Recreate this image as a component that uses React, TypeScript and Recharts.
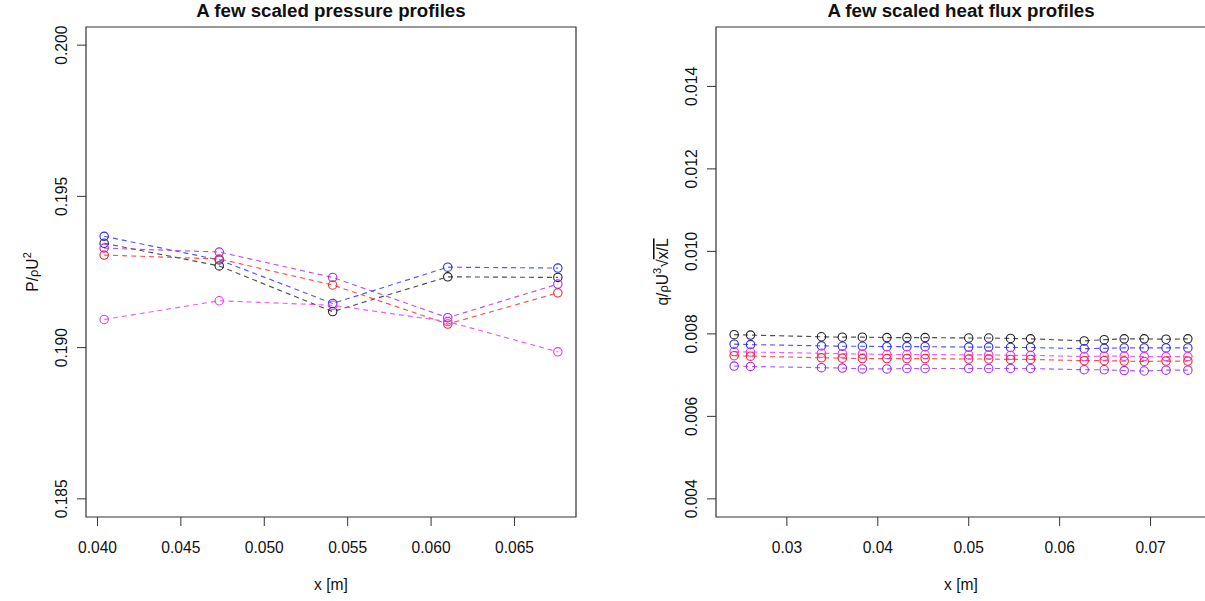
import React from "react";
import { LineChart, Line, XAxis, YAxis, ReferenceArea } from "recharts";

// pressure profiles: five stations along the plate
const pressureX = [0.0404, 0.0473, 0.0541, 0.061, 0.0676];
const pressureBlack = [0.19345, 0.1927, 0.19119, 0.19234, 0.19232];
const pressureBlue = [0.19368, 0.1929, 0.19146, 0.19266, 0.19263];
const pressureRed = [0.19306, 0.19293, 0.19207, 0.19078, 0.19181];
const pressurePurple = [0.19329, 0.19316, 0.19232, 0.19099, 0.1921];
const pressureMagenta = [0.19093, 0.19155, 0.1914, 0.19086, 0.18986];

// heat flux profiles: eighteen stations
const fluxX = [
  0.0242, 0.026, 0.0338, 0.0361, 0.0383, 0.041, 0.0432, 0.0452, 0.05, 0.0522,
  0.0546, 0.0568, 0.0627, 0.0649, 0.0671, 0.0693, 0.0717, 0.0741,
];
const fluxBlack = [
  0.00798, 0.00797, 0.00793, 0.00792, 0.00792, 0.00791, 0.00791, 0.00791, 0.0079, 0.0079,
  0.00789, 0.00788, 0.00783, 0.00786, 0.00788, 0.00788, 0.00787, 0.00788,
];
const fluxBlue = [
  0.00775, 0.00774, 0.00771, 0.0077, 0.0077, 0.00769, 0.00769, 0.00769, 0.00768, 0.00768,
  0.00767, 0.00767, 0.00764, 0.00765, 0.00766, 0.00766, 0.00766, 0.00766,
];
const fluxMagenta = [
  0.00757, 0.00756, 0.00753, 0.00752, 0.00751, 0.0075, 0.0075, 0.0075, 0.00749, 0.00749,
  0.00748, 0.00748, 0.00745, 0.00746, 0.00746, 0.00745, 0.00745, 0.00745,
];
const fluxRed = [
  0.00747, 0.00746, 0.00742, 0.00741, 0.0074, 0.0074, 0.0074, 0.0074, 0.00739, 0.00739,
  0.00738, 0.00738, 0.00735, 0.00735, 0.00734, 0.00733, 0.00734, 0.00734,
];
const fluxPurple = [
  0.00722, 0.00721, 0.00718, 0.00717, 0.00715, 0.00715, 0.00716, 0.00716, 0.00716, 0.00716,
  0.00716, 0.00716, 0.00713, 0.00713, 0.00711, 0.0071, 0.00712, 0.00712,
];

const pressureXTicks = [0.04, 0.045, 0.05, 0.055, 0.06, 0.065];
const pressureYTicks = [0.185, 0.19, 0.195, 0.2];
const fluxXTicks = [0.03, 0.04, 0.05, 0.06, 0.07];
const fluxYTicks = [0.004, 0.006, 0.008, 0.01, 0.012, 0.014];

const colors = {
  black: "#222222",
  blue: "#2b2bf2",
  red: "#f02b2b",
  magenta: "#ec34ec",
  purple: "#a02cf0",
};

const FONT = "'Liberation Sans', Arial, Helvetica, sans-serif";
const TICK_FONT = 15.6;
const PANEL_W = 630;
const H = 601;
const PLOT_LEFT = 86;
const PLOT_W = 490;
const PLOT_TOP = 27;
const PLOT_BOTTOM = 517;

// R-style axis range: data extent padded by 4% on each side
const pad = (lo: number, hi: number): [number, number] => {
  const d = (hi - lo) * 0.04;
  return [lo - d, hi + d];
};

const rows = (xs: number[], series: Record<string, number[]>) =>
  xs.map((x, i) => {
    const r: Record<string, number> = { x };
    Object.keys(series).forEach((k) => (r[k] = series[k][i]));
    return r;
  });

const pressureData = rows(pressureX, {
  black: pressureBlack,
  blue: pressureBlue,
  red: pressureRed,
  purple: pressurePurple,
  magenta: pressureMagenta,
});

const fluxData = rows(fluxX, {
  black: fluxBlack,
  blue: fluxBlue,
  magenta: fluxMagenta,
  red: fluxRed,
  purple: fluxPurple,
});

const XTick = (digits: number) => (props: any) => (
  <text
    x={props.x}
    y={552.5}
    textAnchor="middle"
    fontFamily={FONT}
    fontSize={TICK_FONT}
    fill="#111"
  >
    {Number(props.payload.value).toFixed(digits)}
  </text>
);

const YTick = (props: any) => {
  const bx = PLOT_LEFT - 18.7;
  return (
    <text
      x={bx}
      y={props.y}
      transform={`rotate(-90 ${bx} ${props.y})`}
      textAnchor="middle"
      fontFamily={FONT}
      fontSize={TICK_FONT}
      fill="#111"
    >
      {Number(props.payload.value).toFixed(3)}
    </text>
  );
};

interface PanelProps {
  data: Record<string, number>[];
  keys: string[];
  xDomain: [number, number];
  yDomain: [number, number];
  xTicks: number[];
  yTicks: number[];
  xDigits: number;
  title: string;
  yLabel: React.ReactNode;
}

const Panel: React.FC<PanelProps> = ({ data, keys, xDomain, yDomain, xTicks, yTicks, xDigits, title, yLabel }) => {
  const cx = PLOT_LEFT + PLOT_W / 2;
  const cy = (PLOT_TOP + PLOT_BOTTOM) / 2;
  const lx = PLOT_LEFT - 48;
  return (
    <div style={{ position: "relative", width: PANEL_W, height: H }}>
      <LineChart
        width={PANEL_W}
        height={H}
        data={data}
        margin={{ top: PLOT_TOP, right: PANEL_W - PLOT_LEFT - PLOT_W, bottom: H - PLOT_BOTTOM - 60, left: 0 }}
      >
        <XAxis
          type="number"
          dataKey="x"
          domain={xDomain}
          ticks={xTicks}
          interval={0}
          height={60}
          axisLine={false}
          tickSize={9}
          tickLine={{ stroke: "#333" }}
          tick={XTick(xDigits)}
          allowDataOverflow
        />
        <YAxis
          type="number"
          domain={yDomain}
          ticks={yTicks}
          interval={0}
          width={PLOT_LEFT}
          axisLine={false}
          tickSize={9}
          tickLine={{ stroke: "#333" }}
          tick={YTick}
          allowDataOverflow
        />
        <ReferenceArea
          x1={xDomain[0]}
          x2={xDomain[1]}
          y1={yDomain[0]}
          y2={yDomain[1]}
          fill="none"
          stroke="#333"
          strokeWidth={1.2}
          ifOverflow="visible"
        />
        {keys.map((k) => (
          <Line
            key={k}
            type="linear"
            dataKey={k}
            stroke={(colors as any)[k]}
            strokeOpacity={0.8}
            strokeWidth={1.15}
            strokeDasharray="5 4"
            dot={{ r: 4.2, fill: "none", stroke: (colors as any)[k], strokeOpacity: 1, strokeDasharray: "none", strokeWidth: 1.1 }}
            activeDot={false}
            isAnimationActive={false}
          />
        ))}
      </LineChart>
      <svg
        width={PANEL_W}
        height={H}
        style={{ position: "absolute", left: 0, top: 0, pointerEvents: "none" }}
      >
        <text x={cx} y={17} textAnchor="middle" fontFamily={FONT} fontSize={18.7} fontWeight="bold" fill="#111">
          {title}
        </text>
        <text x={cx} y={590} textAnchor="middle" fontFamily={FONT} fontSize={TICK_FONT} fill="#111">
          x [m]
        </text>
        <text
          x={lx}
          y={cy}
          transform={`rotate(-90 ${lx} ${cy})`}
          textAnchor="middle"
          fontFamily={FONT}
          fontSize={TICK_FONT}
          fill="#111"
        >
          {yLabel}
        </text>
      </svg>
    </div>
  );
};

export default function App() {
  return (
    <div
      style={{
        position: "fixed",
        left: 0,
        top: 0,
        width: 1205,
        height: 601,
        overflow: "hidden",
        background: "#fff",
      }}
    >
      <div style={{ position: "absolute", left: 0, top: 0 }}>
        <Panel
          data={pressureData}
          keys={["black", "blue", "red", "purple", "magenta"]}
          xDomain={pad(0.0404, 0.0676)}
          yDomain={pad(0.185, 0.2)}
          xTicks={pressureXTicks}
          yTicks={pressureYTicks}
          xDigits={3}
          title="A few scaled pressure profiles"
          yLabel={
            <>
              P/<tspan fontSize={13}>ρ</tspan>U<tspan fontSize={11} dy={-7}>2</tspan>
            </>
          }
        />
      </div>
      <div style={{ position: "absolute", left: PANEL_W, top: 0 }}>
        <Panel
          data={fluxData}
          keys={["black", "blue", "magenta", "red", "purple"]}
          xDomain={pad(0.0242, 0.0741)}
          yDomain={pad(0.004, 0.015)}
          xTicks={fluxXTicks}
          yTicks={fluxYTicks}
          xDigits={2}
          title="A few scaled heat flux profiles"
          yLabel={
            <>
              q/<tspan fontSize={13}>ρ</tspan>U<tspan fontSize={11} dy={-7}>3</tspan>
              <tspan dy={7}>√</tspan>
              <tspan style={{ textDecoration: "overline" }}>x/L</tspan>
            </>
          }
        />
      </div>
    </div>
  );
}
